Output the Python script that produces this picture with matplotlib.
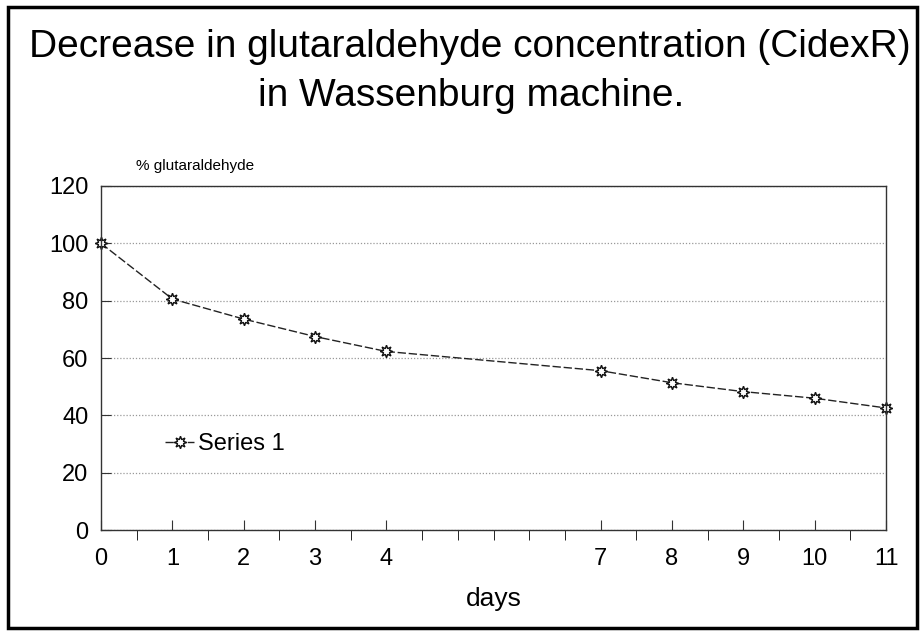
import numpy as np
import matplotlib
matplotlib.use("Agg")
from matplotlib import pyplot as plt
from matplotlib.patches import Rectangle

plt.rcParams['font.family'] = ['Liberation Sans', 'DejaVu Sans']

# data
days = [0, 1, 2, 3, 4, 7, 8, 9, 10, 11]
glutaraldehyde = [100, 80.6, 73.6, 67.5, 62.3, 55.6, 51.4, 48.3, 46.0, 42.6]
tick_labels = ['0', '1', '2', '3', '4', '7', '8', '9', '10', '11']
y_ticks = [0, 20, 40, 60, 80, 100, 120]

fig = plt.figure(figsize=(9.24, 6.38), dpi=100)
fig.patch.set_facecolor('white')

# outer frame round the whole picture
fig.patches.append(Rectangle((0.009, 0.016), 0.983, 0.973, transform=fig.transFigure,
                             fill=False, edgecolor='black', linewidth=2.5))

fig.text(0.508, 0.927, 'Decrease in glutaraldehyde concentration (CidexR)',
         ha='center', va='center', fontsize=28)
fig.text(0.510, 0.850, 'in Wassenburg machine.', ha='center', va='center', fontsize=28)

ax = fig.add_axes([0.1093, 0.169, 0.8497, 0.5395])
ax.plot(days, glutaraldehyde, color='#222222', linewidth=1.0, linestyle=(0, (6, 2)),
        marker=(8, 1, 0), markersize=9, markerfacecolor='white', markeredgecolor='#111111',
        markeredgewidth=1.0, label='Series 1', clip_on=False)

ax.set_xlim(0, 11)
ax.set_ylim(0, 120)
ax.set_yticks(y_ticks)
ax.set_xticks(np.arange(0, 11.01, 0.5), minor=True)
ax.set_xticks(days)
ax.set_xticklabels(tick_labels)
ax.tick_params(axis='both', direction='in', labelsize=17, color='#333333')
ax.tick_params(axis='x', which='both', length=7, pad=13)
ax.tick_params(axis='y', length=7, pad=9)
ax.yaxis.grid(True, linestyle=(0, (1, 1.5)), color='#999999', linewidth=0.9)
ax.set_axisbelow(True)
for s in ax.spines.values():
    s.set_color('#333333')
    s.set_linewidth(1.0)

ax.set_xlabel('days', fontsize=19, labelpad=12)
fig.text(0.147, 0.740, '% glutaraldehyde', ha='left', va='center', fontsize=11)

ax.legend(loc='center left', bbox_to_anchor=(0.055, 0.25), frameon=False, fontsize=17,
          handlelength=1.2, handletextpad=0.2)

fig.savefig('out.png', dpi=100)
